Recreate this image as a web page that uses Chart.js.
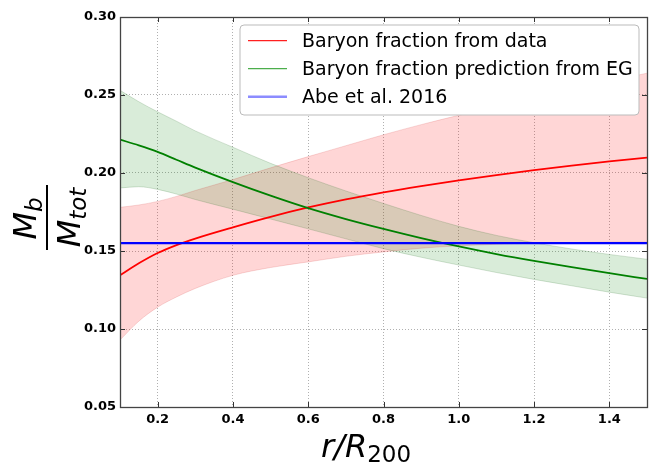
<!DOCTYPE html>
<html><head><meta charset="utf-8">
<script src="https://cdn.jsdelivr.net/npm/chart.js@4"></script>
<style>html,body{margin:0;padding:0;background:#fff;}canvas{display:block;}</style>
</head><body>
<canvas id="c" width="654" height="464"></canvas>
<script>
// r / R200 sample positions
const radius   = [0.1, 0.15, 0.2, 0.25, 0.3, 0.4, 0.5, 0.6, 0.7, 0.8, 0.9, 1.0, 1.1, 1.2, 1.3, 1.4, 1.5];
// Baryon fraction from data (central, upper, lower)
const dataFrac = [0.1344,0.1421,0.1487,0.1538,0.158,0.1652,0.1719,0.1779,0.1831,0.1876,0.1916,0.1953,0.1987,0.2018,0.2047,0.2074,0.2099];
const dataHi   = [0.178,0.1795,0.1818,0.185,0.1888,0.1958,0.2033,0.2105,0.2175,0.2245,0.231,0.237,0.2428,0.2483,0.2536,0.2588,0.264];
const dataLo   = [0.093,0.105,0.114,0.1205,0.126,0.1344,0.1394,0.143,0.1466,0.1494,0.1518,0.1533,0.1543,0.155,0.1554,0.1557,0.1559];
// Baryon fraction prediction from EG (central, upper, lower)
const egFrac   = [0.2214,0.2177,0.2135,0.2085,0.2035,0.1942,0.1855,0.1775,0.1705,0.1642,0.1583,0.1529,0.148,0.1436,0.1396,0.1358,0.1321];
const egHi     = [0.253,0.2457,0.2392,0.2332,0.227,0.2165,0.2062,0.197,0.1885,0.1805,0.1728,0.1658,0.16,0.1553,0.1513,0.1478,0.1447];
const egLo     = [0.1904,0.1912,0.1895,0.1865,0.183,0.1768,0.1705,0.1642,0.1578,0.1515,0.146,0.141,0.1362,0.1318,0.1277,0.1236,0.1198];
// Abe et al. 2016 constant
const abeX     = [0.1, 1.5];
const abeVal   = [0.155, 0.155];
// tick values
const xTicks = [0.2, 0.4, 0.6, 0.8, 1.0, 1.2, 1.4];
const yTicks = [0.05, 0.10, 0.15, 0.20, 0.25, 0.30];
const labels = ['Baryon fraction from data', 'Baryon fraction prediction from EG', 'Abe et al. 2016'];

const pts = (xs, ys) => xs.map((x, i) => ({x, y: ys[i]}));

const datasets = [
  {label: labels[2], data: pts(abeX, abeVal), borderColor: '#0000ff', borderWidth: 2.2, order: 0, legendColor: '#8c8cff', legendWidth: 2.5},
  {label: labels[1], data: pts(radius, egFrac), borderColor: '#008000', borderWidth: 1.8, order: 1, legendColor: '#4cae4c', legendWidth: 1.3},
  {label: labels[0], data: pts(radius, dataFrac), borderColor: '#ff0000', borderWidth: 1.8, order: 2, legendColor: '#ff2020', legendWidth: 1.3},
  {label: 'egHi', data: pts(radius, egHi), borderColor: 'rgba(0,90,0,0.16)', borderWidth: 1, backgroundColor: 'rgba(0,128,0,0.15)', fill: 4, order: 3},
  {label: 'egLo', data: pts(radius, egLo), borderColor: 'rgba(0,90,0,0.16)', borderWidth: 1, fill: false, order: 4},
  {label: 'dataHi', data: pts(radius, dataHi), borderColor: 'rgba(200,0,0,0.14)', borderWidth: 1, backgroundColor: 'rgba(255,0,0,0.16)', fill: 6, order: 5},
  {label: 'dataLo', data: pts(radius, dataLo), borderColor: 'rgba(200,0,0,0.14)', borderWidth: 1, fill: false, order: 6}
];

const deco = {
  id: 'deco',
  afterDraw(chart) {
    const ctx = chart.ctx, a = chart.chartArea;
    const xs = chart.scales.x, ys = chart.scales.y;
    ctx.save();
    // inward ticks on all sides
    ctx.strokeStyle = '#333'; ctx.lineWidth = 1;
    ctx.beginPath();
    xTicks.forEach(v => { const p = Math.round(xs.getPixelForValue(v)) + 0.5;
      ctx.moveTo(p, a.bottom); ctx.lineTo(p, a.bottom - 5);
      ctx.moveTo(p, a.top); ctx.lineTo(p, a.top + 5); });
    yTicks.forEach(v => { const p = Math.round(ys.getPixelForValue(v)) + 0.5;
      ctx.moveTo(a.left, p); ctx.lineTo(a.left + 5, p);
      ctx.moveTo(a.right, p); ctx.lineTo(a.right - 5, p); });
    ctx.stroke();
    // frame
    ctx.strokeStyle = '#444'; ctx.lineWidth = 1.3;
    ctx.strokeRect(a.left + 0.5, a.top + 0.5, a.right - a.left, a.bottom - a.top);
    // legend
    const lx = 240, ly = 25, lw = 399, lh = 90, r = 4;
    ctx.beginPath();
    ctx.moveTo(lx + r, ly); ctx.lineTo(lx + lw - r, ly); ctx.arcTo(lx + lw, ly, lx + lw, ly + r, r);
    ctx.lineTo(lx + lw, ly + lh - r); ctx.arcTo(lx + lw, ly + lh, lx + lw - r, ly + lh, r);
    ctx.lineTo(lx + r, ly + lh); ctx.arcTo(lx, ly + lh, lx, ly + lh - r, r);
    ctx.lineTo(lx, ly + r); ctx.arcTo(lx, ly, lx + r, ly, r); ctx.closePath();
    ctx.fillStyle = '#fff'; ctx.fill();
    ctx.strokeStyle = '#bbb'; ctx.lineWidth = 1; ctx.stroke();
    const order = [2, 1, 0];
    ctx.font = "19px 'DejaVu Sans'"; ctx.textBaseline = 'middle'; ctx.textAlign = 'left';
    order.forEach((di, k) => {
      const d = chart.data.datasets[di];
      const cy = 40.7 + k * 28;
      ctx.strokeStyle = d.legendColor; ctx.lineWidth = d.legendWidth;
      ctx.beginPath(); ctx.moveTo(248, cy); ctx.lineTo(287, cy); ctx.stroke();
      ctx.fillStyle = '#000'; ctx.fillText(d.label, 302, cy + 1);
    });
    // x title r/R_200
    ctx.textBaseline = 'alphabetic';
    const big = "italic 32px 'DejaVu Sans'", sub = "23px 'DejaVu Sans'";
    ctx.font = big; const w1 = ctx.measureText('r/R').width;
    ctx.font = sub; const w2 = ctx.measureText('200').width;
    const x0 = 366 - (w1 + w2) / 2;
    ctx.font = big; ctx.fillText('r/R', x0, 457);
    ctx.font = sub; ctx.fillText('200', x0 + w1, 462);
    // y title M_b / M_tot
    ctx.translate(47, 217.5);
    ctx.rotate(-Math.PI / 2);
    ctx.fillRect(-32.5, -1, 65, 2);
    const bigY = "italic 32px 'DejaVu Sans'", subY = "italic 23px 'DejaVu Sans'";
    ctx.font = bigY; const wM = ctx.measureText('M').width;
    ctx.font = subY; const wb = ctx.measureText('b').width, wt = ctx.measureText('tot').width;
    let s = -(wM + wb) / 2 - 1;
    ctx.font = bigY; ctx.fillText('M', s, -11);
    ctx.font = subY; ctx.fillText('b', s + wM, -5);
    s = -(wM + wt) / 2;
    ctx.font = bigY; ctx.fillText('M', s, 33);
    ctx.font = subY; ctx.fillText('tot', s + wM, 39);
    ctx.restore();
  }
};

new Chart(document.getElementById('c'), {
  type: 'line',
  data: {datasets},
  options: {
    responsive: false, animation: false, devicePixelRatio: 1,
    layout: {padding: {top: 17, right: 7, left: 0, bottom: 0}},
    elements: {point: {radius: 0}, line: {cubicInterpolationMode: 'monotone'}},
    plugins: {legend: {display: false}, tooltip: {enabled: false}, filler: {drawTime: 'beforeDatasetsDraw'}},
    scales: {
      x: {type: 'linear', min: 0.1, max: 1.5,
        afterBuildTicks: s => { s.ticks = xTicks.map(v => ({value: v})); },
        afterFit: s => { s.height = 57; },
        border: {display: false, dash: [1, 2]},
        grid: {color: '#b0b0b0', lineWidth: 1, drawTicks: false},
        ticks: {padding: 5, color: '#000', font: {family: 'DejaVu Sans', size: 13, weight: 'bold'}, callback: v => Number(v).toFixed(1)}
      },
      y: {type: 'linear', min: 0.05, max: 0.30,
        afterBuildTicks: s => { s.ticks = yTicks.map(v => ({value: v})); },
        afterFit: s => { s.width = 120; },
        border: {display: false, dash: [1, 2]},
        grid: {color: '#b0b0b0', lineWidth: 1, drawTicks: false},
        ticks: {padding: 4, color: '#000', font: {family: 'DejaVu Sans', size: 13, weight: 'bold'}, callback: v => Number(v).toFixed(2)}
      }
    }
  },
  plugins: [deco]
});
</script>
</body></html>
